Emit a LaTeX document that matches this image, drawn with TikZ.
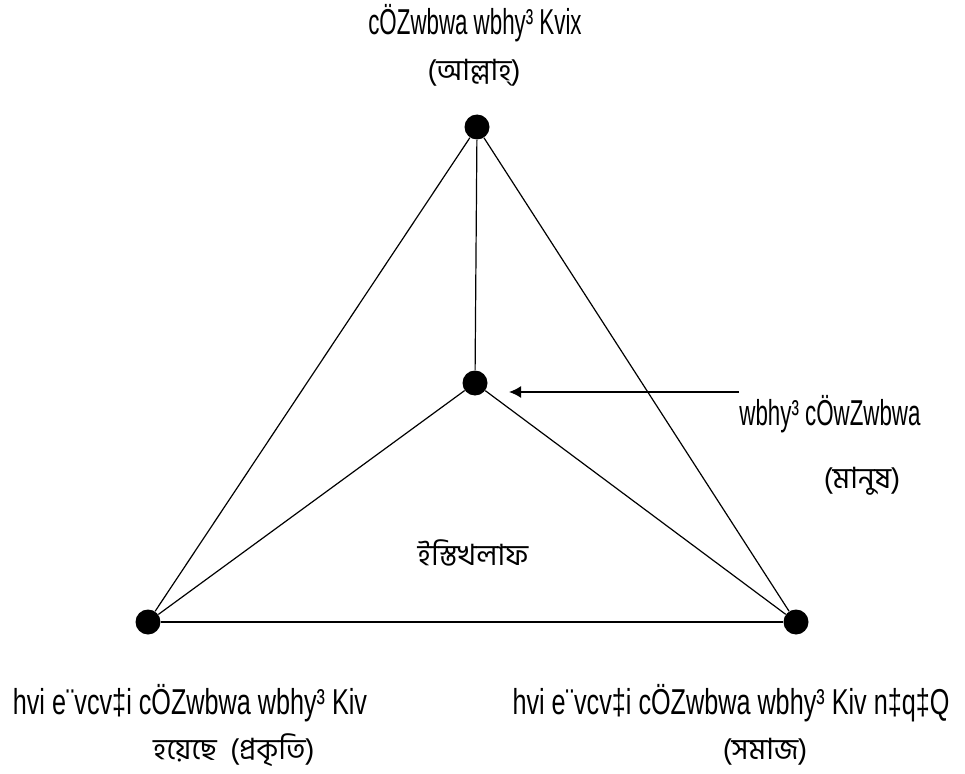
\documentclass[tikz,border=0pt]{standalone}
\usepackage{fontspec}
\usetikzlibrary{arrows.meta}
\newfontfamily\mjfont[FakeStretch=0.62]{Liberation Sans}
\newfontfamily\mjwide[FakeStretch=0.70]{Liberation Sans}
\newfontfamily\bnfont[Script=Bengali]{Hind Siliguri}

\begin{document}
\begin{tikzpicture}[x=0.75pt, y=-0.75pt,
  dot/.style={circle, fill=black, inner sep=0pt, minimum size=18.75pt},
  edge/.style={black, line width=0.9pt},
  pointer/.style={black, line width=0.9pt, -{Latex[length=9pt, width=9pt]}, shorten >=16pt},
  mjtext/.style={font=\mjfont\fontsize{27}{31}\selectfont, inner sep=0pt, anchor=base},
  mjlong/.style={mjtext, font=\mjwide\fontsize{27}{31}\selectfont},
  bntext/.style={font=\bnfont\fontsize{22}{26}\selectfont, inner sep=0pt}]
  \useasboundingbox (0,0) rectangle (965,774);

  % the four points
  \node[dot] (allah) at (477,127) {};
  \node[dot] (insan) at (475,383) {};
  \node[dot] (prokriti) at (148,622) {};
  \node[dot] (somaj) at (796,622) {};

  % triangle and spokes
  \draw[edge] (allah) -- (prokriti);
  \draw[edge] (allah) -- (somaj);
  \draw[edge] (allah) -- (insan);
  \draw[edge] (insan) -- (prokriti);
  \draw[edge] (insan) -- (somaj);
  \draw[edge] (prokriti) -- (somaj);

  % pointer to the middle point
  \coordinate (tail) at (739,392);
  \draw[pointer] (tail) -- (tail -| insan.east);

  % labels
  \node[mjtext] (allahA) at (475,35) {cÖZwbwa wbhy³ Kvix};
  \node[bntext] (allahB) at (474,73) {(আল্লাহ্)};
  \node[mjtext] (insanA) at (830,425) {wbhy³ cÖwZwbwa};
  \node[bntext] (insanB) at (862,481) {(মানুষ)};
  \node[bntext] (istikhlaf) at (473,553) {ইস্তিখলাফ};
  \node[mjlong] (prokritiA) at (190,714) {hvi e¨vcv‡i cÖZwbwa wbhy³ Kiv};
  \node[bntext] (prokritiB) at (234,750) {হয়েছে\ \ (প্রকৃতি)};
  \node[mjlong] (somajA) at (731,714) {hvi e¨vcv‡i cÖZwbwa wbhy³ Kiv n‡q‡Q};
  \node[bntext] (somajB) at (765,752) {(সমাজ)};
\end{tikzpicture}
\end{document}
